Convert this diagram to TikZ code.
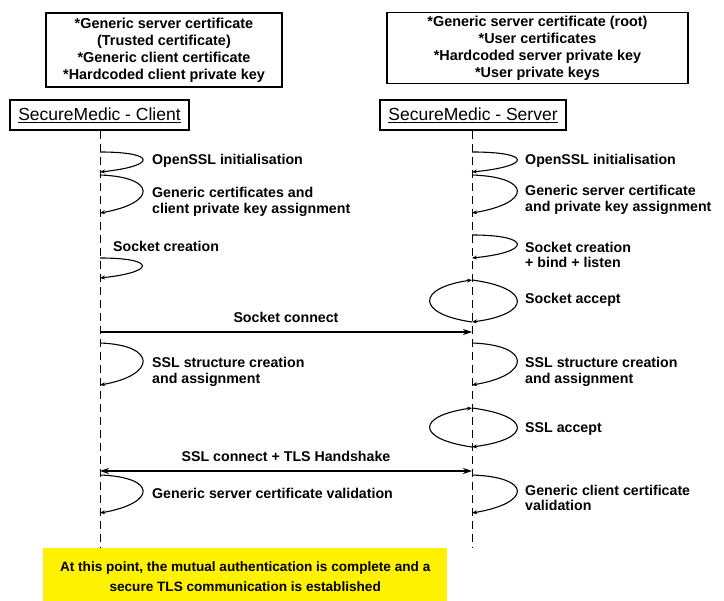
\documentclass[tikz,border=0pt]{standalone}
\usepackage{fontspec}
\setmainfont{Liberation Sans}
\usetikzlibrary{arrows.meta}

\begin{document}
\begin{tikzpicture}[x=1pt,y=-1pt,
    lbl/.style={font=\bfseries\fontsize{14.2}{15.5}\selectfont, anchor=west, align=left, inner sep=0pt},
    infobox/.style={draw, line width=1.2pt, align=center, font=\bfseries\fontsize{14.4}{17}\selectfont},
    titlebox/.style={draw, line width=1.2pt, minimum height=30pt, font=\fontsize{17.5}{18}\selectfont},
    lifeline/.style={dash pattern=on 8pt off 5pt, line width=1pt},
    selfloop/.style={line width=1.1pt, -{Stealth[length=5pt,width=4pt]}},
    msg/.style={line width=1.1pt, -{Stealth[length=9pt,width=6pt]}}]
    \useasboundingbox (0,0) rectangle (724,601);
    \node[infobox, minimum width=236pt, minimum height=74pt] (cinfo) at (164,50)
        {*Generic server certificate\\(Trusted certificate)\\*Generic client certificate\\*Hardcoded client private key};
    \node[infobox, minimum width=301pt, minimum height=70pt] (sinfo) at (537.5,48)
        {*Generic server certificate (root)\\*User certificates\\*Hardcoded server private key\\*User private keys};
    \node[titlebox, minimum width=179pt] (client) at (99.5,115) {\underline{SecureMedic - Client}};
    \node[titlebox, minimum width=186pt] (server) at (473,115) {\underline{SecureMedic - Server}};
    \coordinate (cend) at (100,548);
    \coordinate (send) at (472,548);
    \draw[lifeline] (client.south -| cend) -- (cend);
    \draw[lifeline] (server.south -| send) -- (send);

    % client side
    \coordinate (c1a) at (100,152); \coordinate (c1b) at (100,172);
    \coordinate (c2a) at (100,175); \coordinate (c2b) at (100,213);
    \coordinate (c3a) at (100,258); \coordinate (c3b) at (100,278);
    \coordinate (c4a) at (100,332);
    \coordinate (c5a) at (100,343); \coordinate (c5b) at (100,385);
    \coordinate (c6a) at (100,471);
    \coordinate (c7a) at (100,475); \coordinate (c7b) at (100,513);
    \draw[selfloop] (c1a) .. controls +(57,0) and +(57,-6) .. (c1b);
    \draw[selfloop] (c2a) .. controls +(57,2) and +(57,-10) .. (c2b);
    \draw[selfloop] (c3a) .. controls +(56,0) and +(56,-6) .. (c3b);
    \draw[selfloop] (c5a) .. controls +(57,2) and +(57,-10) .. (c5b);
    \draw[selfloop] (c7a) .. controls +(57,2) and +(57,-10) .. (c7b);
    \node[lbl] (c1l) at (152,161) {OpenSSL initialisation};
    \node[lbl] (c2l) at (152,202) {Generic certificates and\\client private key assignment};
    \node[lbl] (c3l) at (113,246) {Socket creation};
    \node[lbl] (c5l) at (152,372) {SSL structure creation\\and assignment};
    \node[lbl] (c7l) at (152,493) {Generic server certificate validation};

    % server side
    \coordinate (s1a) at (472,152); \coordinate (s1b) at (472,172);
    \coordinate (s2a) at (472,175); \coordinate (s2b) at (472,213);
    \coordinate (s3a) at (472,235); \coordinate (s3b) at (472,258);
    \coordinate (s4a) at (472,280); \coordinate (s4b) at (472,322);
    \coordinate (s5b) at (472,332);
    \coordinate (s6a) at (472,343); \coordinate (s6b) at (472,385);
    \coordinate (s7a) at (472,408); \coordinate (s7b) at (472,447);
    \coordinate (s8b) at (472,471);
    \coordinate (s9a) at (472,475); \coordinate (s9b) at (472,513);
    \draw[selfloop] (s1a) .. controls +(60,0) and +(60,-6) .. (s1b);
    \draw[selfloop] (s2a) .. controls +(60,2) and +(60,-10) .. (s2b);
    \draw[selfloop] (s3a) .. controls +(60,0) and +(60,-6) .. (s3b);
    \draw[selfloop] (s4a) .. controls +(60,8) and +(60,-8) .. (s4b);
    \draw[selfloop] (s4b) .. controls +(-56,-8) and +(-56,8) .. (s4a);
    \draw[selfloop] (s6a) .. controls +(60,2) and +(60,-10) .. (s6b);
    \draw[selfloop] (s7a) .. controls +(60,8) and +(60,-8) .. (s7b);
    \draw[selfloop] (s7b) .. controls +(-56,-8) and +(-56,8) .. (s7a);
    \draw[selfloop] (s9a) .. controls +(60,2) and +(60,-10) .. (s9b);
    \node[lbl] (s1l) at (525,161) {OpenSSL initialisation};
    \node[lbl] (s2l) at (525,200) {Generic server certificate\\and private key assignment};
    \node[lbl] (s3l) at (525,255) {Socket creation\\+ bind + listen};
    \node[lbl] (s4l) at (525,300) {Socket accept};
    \node[lbl] (s6l) at (525,372) {SSL structure creation\\and assignment};
    \node[lbl] (s7l) at (525,429) {SSL accept};
    \node[lbl] (s9l) at (525,498) {Generic client certificate\\validation};

    % messages
    \draw[msg] (c4a) -- node[above=5pt, font=\bfseries\fontsize{14.2}{15}\selectfont] {Socket connect} (s5b);
    \draw[msg, {Stealth[length=9pt,width=6pt]}-{Stealth[length=9pt,width=6pt]}] (c6a) -- node[above=5pt, font=\bfseries\fontsize{14.2}{15}\selectfont] {SSL connect + TLS Handshake} (s8b);

    \node[fill=yellow, anchor=north west, minimum width=404pt, minimum height=56pt, align=center,
        font=\bfseries\fontsize{13.6}{20}\selectfont] (done) at (43,548)
        {At this point, the mutual authentication is complete and a\\secure TLS communication is established};
\end{tikzpicture}
\end{document}
